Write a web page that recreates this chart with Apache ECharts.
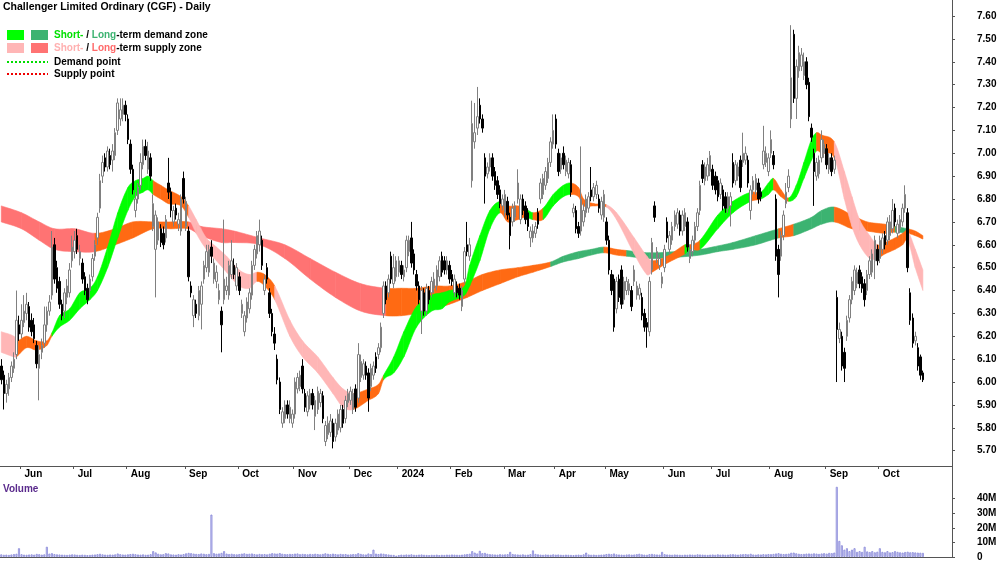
<!DOCTYPE html>
<html>
<head>
<meta charset="utf-8">
<title>Challenger Limited Ordinary (CGF) - Daily</title>
<script src="https://cdn.jsdelivr.net/npm/echarts@6/dist/echarts.min.js"></script>
<style>
html, body { margin: 0; padding: 0; background: #fff; }
#chart { width: 1000px; height: 562px; }
</style>
</head>
<body>
<div id="chart"></div>
<script>
// month labels and the bar each month starts on
var monthLabels = ['Jun','Jul','Aug','Sep','Oct','Nov','Dec','2024','Feb','Mar','Apr','May','Jun','Jul','Aug','Sep','Oct'];
var monthStart  = [8,29,50,73,94,116,138,157,178,199,219,239,262,281,304,326,347];
var padBars = 11; // empty room after the last bar

// daily prices, one value per trading day
var opens = [
 6.07,6.03,5.95,5.97,6.02,6.06,6.12,6.25,6.21,6.26, 6.30,6.33,6.27,6.25,6.16,6.06,6.13,6.17,6.25,6.31,
 6.38,6.60,6.50,6.44,6.34,6.31,6.37,6.39,6.53,6.57, 6.64,6.54,6.52,6.46,6.41,6.40,6.46,6.55,6.63,6.76,
 6.90,6.98,6.94,6.99,6.97,6.99,7.10,7.15,7.17,7.21, 7.15,7.04,6.93,6.75,6.80,6.86,6.95,7.03,6.93,6.98,
 6.68,6.58,6.62,6.67,6.65,6.63,6.87,6.83,6.70,6.76, 6.69,6.66,6.89,6.68,6.66,6.42,6.29,6.34,6.29,6.34,
 6.45,6.50,6.48,6.59,6.45,6.44,6.36,6.31,6.36,6.40, 6.38,6.47,6.51,6.42,6.46,6.30,6.22,6.28,6.32,6.38,
 6.51,6.56,6.60,6.62,6.40,6.50,6.39,6.30,6.21,6.10, 6.00,5.82,5.84,5.90,5.84,5.82,5.86,5.97,5.98,6.07,
 5.95,5.87,5.90,5.95,5.85,5.88,5.91,5.94,5.74,5.77, 5.78,5.82,5.76,5.79,5.80,5.88,5.84,5.91,5.92,5.88,
 5.97,5.93,6.02,6.03,6.07,6.04,5.98,6.03,6.11,6.12, 6.15,6.30,6.42,6.39,6.55,6.43,6.46,6.48,6.51,6.46,
 6.50,6.57,6.63,6.56,6.47,6.42,6.31,6.39,6.31,6.40, 6.39,6.41,6.42,6.46,6.55,6.53,6.49,6.51,6.47,6.39,
 6.42,6.41,6.33,6.45,6.60,6.55,6.88,7.05,7.11,7.21, 7.15,6.98,6.91,6.94,6.98,6.92,6.88,6.84,6.77,6.74,
 6.79,6.72,6.70,6.72,6.80,6.71,6.80,6.77,6.74,6.63, 6.63,6.65,6.74,6.80,6.82,6.86,6.89,6.96,7.04,7.15,
 7.00,6.93,7.00,6.92,6.91,6.95,6.74,6.75,6.68,6.66, 6.70,6.74,6.76,6.84,6.81,6.82,6.80,6.73,6.72,6.70,
 6.62,6.47,6.45,6.32,6.45,6.49,6.36,6.40,6.40,6.40, 6.44,6.38,6.38,6.37,6.30,6.26,6.22,6.49,6.77,6.54,
 6.51,6.43,6.50,6.70,6.58,6.62,6.68,6.69,6.73,6.66, 6.68,6.70,6.54,6.57,6.62,6.68,6.75,6.95,6.88,6.90,
 6.92,6.93,6.90,6.88,6.82,6.84,6.81,6.76,6.77,6.96, 6.88,6.90,6.97,6.96,6.97,6.97,6.75,6.84,6.84,6.87,
 6.83,6.95,6.96,6.92,7.00,6.99,6.80,6.58,6.55,6.64, 6.78,6.85,7.15,7.52,7.24,7.36,7.38,7.34,7.40,7.31,
 7.11,7.00,6.90,6.91,6.98,7.00,7.02,6.93,6.98,6.93, 6.37,6.19,6.20,6.13,6.20,6.28,6.36,6.40,6.43,6.49,
 6.46,6.43,6.40,6.47,6.48,6.53,6.58,6.54,6.58,6.64, 6.62,6.64,6.67,6.76,6.65,6.67,6.70,6.76,6.74,6.39,
 6.28,6.18,6.15,6.11,6.04
];
var closes = [
 6.01,5.95,5.99,6.02,6.07,6.10,6.27,6.21,6.27,6.31, 6.34,6.24,6.22,6.19,6.08,6.12,6.16,6.25,6.31,6.35,
 6.59,6.45,6.41,6.34,6.29,6.39,6.42,6.49,6.59,6.62, 6.58,6.57,6.45,6.40,6.36,6.45,6.54,6.60,6.72,6.88,
 6.96,6.94,7.01,6.95,7.01,7.09,7.22,7.19,7.21,7.17, 7.06,6.93,6.84,6.80,6.85,6.96,7.03,6.99,7.01,6.90,
 6.78,6.73,6.70,6.61,6.60,6.71,6.83,6.75,6.75,6.73, 6.71,6.80,6.80,6.79,6.46,6.39,6.36,6.30,6.40,6.42,
 6.51,6.57,6.58,6.55,6.52,6.48,6.40,6.25,6.45,6.42, 6.51,6.53,6.47,6.50,6.40,6.34,6.29,6.35,6.39,6.51,
 6.58,6.64,6.66,6.51,6.45,6.45,6.30,6.22,6.17,6.01, 5.88,5.87,5.90,5.86,5.89,5.86,6.00,6.02,6.03,5.97,
 5.89,5.94,5.95,5.90,5.92,5.96,5.95,5.84,5.81,5.82, 5.83,5.74,5.82,5.86,5.88,5.82,5.92,5.95,5.96,5.95,
 5.89,6.12,6.09,6.08,6.03,5.93,6.06,6.07,6.06,6.15, 6.24,6.42,6.36,6.45,6.45,6.50,6.53,6.53,6.47,6.49,
 6.62,6.62,6.52,6.49,6.42,6.36,6.40,6.31,6.41,6.36, 6.44,6.45,6.49,6.53,6.48,6.49,6.53,6.45,6.44,6.45,
 6.39,6.38,6.40,6.57,6.57,6.60,7.13,7.09,7.16,7.15, 7.11,6.90,6.94,6.98,6.90,6.86,6.82,6.78,6.80,6.82,
 6.73,6.64,6.76,6.77,6.87,6.80,6.75,6.71,6.68,6.66, 6.66,6.68,6.69,6.87,6.89,6.92,6.96,7.05,7.10,7.04,
 6.92,6.98,6.95,6.97,6.96,6.83,6.76,6.67,6.65,6.80, 6.75,6.80,6.81,6.81,6.85,6.86,6.76,6.79,6.82,6.62,
 6.49,6.40,6.24,6.44,6.37,6.34,6.44,6.44,6.43,6.33, 6.49,6.42,6.41,6.29,6.24,6.24,6.44,6.61,6.72,6.57,
 6.54,6.46,6.58,6.63,6.64,6.68,6.73,6.74,6.66,6.73, 6.74,6.59,6.58,6.62,6.68,6.74,6.86,6.89,6.94,6.95,
 6.99,6.86,6.84,6.81,6.87,6.77,6.76,6.81,6.81,6.87, 6.95,6.94,6.85,7.00,7.00,6.87,6.84,6.88,6.89,6.80,
 6.81,7.01,7.00,6.98,7.06,6.95,6.55,6.47,6.64,6.73, 6.83,6.90,7.33,7.24,7.38,7.44,7.43,7.40,7.30,7.16,
 7.07,6.92,6.96,6.97,7.06,7.04,6.95,6.98,6.92,6.97, 6.23,6.23,6.07,6.06,6.27,6.36,6.44,6.49,6.48,6.43,
 6.41,6.36,6.47,6.53,6.56,6.62,6.53,6.62,6.63,6.60, 6.70,6.70,6.75,6.70,6.69,6.71,6.76,6.82,6.50,6.27,
 6.17,6.20,6.07,6.03,6.01
];
var highs = [
 6.10,6.05,6.01,6.04,6.09,6.13,6.40,6.29,6.34,6.38, 6.39,6.35,6.30,6.28,6.18,6.16,6.19,6.33,6.33,6.38,
 6.66,6.63,6.53,6.46,6.36,6.41,6.45,6.52,6.64,6.66, 6.67,6.60,6.54,6.48,6.43,6.47,6.56,6.62,6.74,6.91,
 6.99,7.00,7.03,7.02,7.04,7.11,7.24,7.24,7.24,7.23, 7.17,7.06,6.95,6.83,6.87,7.00,7.06,7.06,7.05,7.00,
 6.82,6.75,6.72,6.69,6.68,6.73,6.98,6.85,6.77,6.78, 6.74,6.82,6.92,6.81,6.68,6.44,6.38,6.36,6.42,6.44,
 6.53,6.60,6.60,6.62,6.54,6.51,6.43,6.33,6.71,6.46, 6.53,6.62,6.54,6.52,6.48,6.36,6.31,6.37,6.41,6.53,
 6.60,6.66,6.71,6.64,6.47,6.52,6.41,6.32,6.24,6.12, 6.02,5.89,5.92,5.92,5.92,5.88,6.02,6.04,6.05,6.10,
 5.97,5.96,5.97,5.97,5.94,5.98,5.97,5.96,5.83,5.85, 5.86,5.84,5.84,5.88,5.90,5.90,5.94,5.97,5.98,5.97,
 5.99,6.17,6.12,6.10,6.09,6.06,6.08,6.09,6.13,6.17, 6.26,6.44,6.44,6.47,6.57,6.56,6.55,6.55,6.53,6.51,
 6.64,6.64,6.70,6.58,6.49,6.44,6.42,6.41,6.43,6.42, 6.46,6.48,6.51,6.55,6.57,6.55,6.55,6.53,6.49,6.47,
 6.44,6.43,6.42,6.59,6.70,6.63,7.23,7.22,7.29,7.24, 7.17,7.00,6.96,7.00,7.00,6.94,6.90,6.86,6.82,6.84,
 6.81,6.74,6.78,6.79,6.93,6.82,6.82,6.79,6.76,6.68, 6.69,6.70,6.76,6.89,6.91,6.94,6.98,7.07,7.17,7.17,
 7.02,7.00,7.03,6.99,6.98,6.97,6.78,6.77,6.70,7.03, 6.78,6.82,6.83,6.94,6.87,6.88,6.82,6.81,6.84,6.72,
 6.64,6.49,6.47,6.46,6.47,6.51,6.46,6.46,6.45,6.42, 6.51,6.44,6.43,6.39,6.32,6.28,6.46,6.63,6.79,6.59,
 6.56,6.48,6.60,6.72,6.66,6.70,6.75,6.76,6.75,6.75, 6.76,6.72,6.60,6.64,6.70,6.76,6.88,6.97,6.96,6.98,
 7.01,6.95,6.92,6.90,6.89,6.86,6.83,6.83,6.83,7.00, 6.97,6.96,6.99,7.09,7.03,6.99,6.86,6.90,6.91,6.89,
 6.85,7.12,7.03,7.00,7.10,7.01,6.82,6.60,6.66,6.75, 6.87,6.93,7.56,7.54,7.41,7.47,7.46,7.44,7.42,7.33,
 7.13,7.02,6.98,6.99,7.10,7.06,7.04,7.00,7.00,6.99, 6.40,6.26,6.22,6.15,6.29,6.38,6.46,6.51,6.50,6.51,
 6.48,6.45,6.49,6.55,6.58,6.64,6.60,6.64,6.65,6.66, 6.72,6.73,6.80,6.78,6.71,6.73,6.78,6.86,6.76,6.41,
 6.30,6.22,6.17,6.12,6.05
];
var lows = [
 5.99,5.88,5.91,5.94,6.00,6.04,6.10,6.18,6.19,6.24, 6.27,6.22,6.20,6.17,6.06,5.92,6.10,6.15,6.22,6.29,
 6.36,6.43,6.39,6.32,6.27,6.28,6.34,6.37,6.50,6.54, 6.56,6.51,6.43,6.38,6.34,6.37,6.44,6.53,6.60,6.74,
 6.87,6.92,6.92,6.93,6.92,6.97,7.08,7.12,7.14,7.14, 7.04,6.91,6.82,6.72,6.78,6.84,6.93,6.97,6.91,6.88,
 6.66,6.37,6.60,6.59,6.58,6.61,6.80,6.72,6.68,6.71, 6.66,6.64,6.78,6.66,6.44,6.37,6.24,6.28,6.27,6.23,
 6.43,6.48,6.46,6.52,6.43,6.41,6.34,6.13,6.34,6.38, 6.36,6.45,6.45,6.40,6.38,6.28,6.20,6.26,6.30,6.36,
 6.49,6.54,6.57,6.49,6.38,6.43,6.28,6.20,6.14,5.99, 5.86,5.80,5.82,5.84,5.82,5.80,5.84,5.95,5.96,5.95,
 5.87,5.85,5.88,5.88,5.79,5.86,5.89,5.82,5.72,5.75, 5.76,5.71,5.74,5.77,5.78,5.80,5.82,5.89,5.90,5.86,
 5.87,5.91,6.00,6.01,6.01,5.87,5.96,6.01,6.04,6.10, 6.13,6.28,6.34,6.37,6.43,6.41,6.44,6.46,6.45,6.44,
 6.48,6.55,6.50,6.47,6.40,6.34,6.21,6.29,6.29,6.34, 6.37,6.39,6.40,6.44,6.46,6.47,6.47,6.43,6.42,6.37,
 6.37,6.36,6.31,6.43,6.55,6.53,6.85,7.02,7.08,7.13, 7.09,6.78,6.89,6.92,6.88,6.84,6.80,6.76,6.75,6.72,
 6.71,6.58,6.68,6.70,6.78,6.69,6.73,6.69,6.66,6.59, 6.61,6.63,6.67,6.78,6.80,6.84,6.87,6.94,7.02,7.02,
 6.90,6.91,6.93,6.90,6.89,6.81,6.72,6.65,6.63,6.64, 6.68,6.72,6.74,6.79,6.79,6.80,6.74,6.71,6.70,6.60,
 6.47,6.38,6.22,6.30,6.35,6.32,6.34,6.38,6.38,6.31, 6.42,6.36,6.36,6.27,6.22,6.15,6.20,6.47,6.70,6.52,
 6.49,6.41,6.48,6.61,6.56,6.60,6.66,6.67,6.64,6.64, 6.66,6.57,6.52,6.55,6.60,6.66,6.73,6.87,6.86,6.88,
 6.90,6.84,6.82,6.79,6.80,6.75,6.74,6.74,6.68,6.85, 6.86,6.88,6.83,6.94,6.95,6.85,6.71,6.82,6.82,6.78,
 6.79,6.93,6.94,6.90,6.98,6.93,6.53,6.37,6.53,6.62, 6.76,6.83,7.11,7.22,7.15,7.33,7.36,7.32,7.28,7.14,
 7.05,6.77,6.88,6.89,6.96,6.98,6.93,6.91,6.90,6.91, 6.00,6.17,6.05,6.00,6.18,6.26,6.34,6.38,6.41,6.41,
 6.39,6.33,6.38,6.45,6.46,6.45,6.51,6.52,6.56,6.58, 6.60,6.62,6.65,6.68,6.63,6.65,6.68,6.74,6.48,6.25,
 6.15,6.16,6.05,6.01,6.00
];
// volume in millions
var volumes = [
 1.8,1.5,1.6,1.4,1.7,2.0,2.2,6.0,1.9,1.6, 1.5,1.7,1.8,1.6,2.1,1.9,1.6,1.8,7.0,2.3,
 2.6,2.0,1.8,1.7,1.6,1.5,1.4,1.6,1.8,1.7, 1.5,1.4,1.6,1.5,1.3,1.4,1.6,1.7,1.9,2.2,
 1.8,1.6,1.5,1.7,1.6,1.8,2.4,1.9,1.7,1.6, 1.8,2.0,2.2,1.9,1.7,1.6,1.8,1.5,1.6,1.9,
 4.0,3.1,2.2,1.8,1.9,2.6,2.4,1.8,1.7,1.6, 1.9,1.7,2.0,2.5,2.8,2.6,2.3,2.1,2.0,2.4,
 2.2,1.9,2.1,29.0,2.6,2.2,2.4,2.8,4.0,2.3, 2.0,2.2,1.9,1.8,2.0,2.3,2.5,2.1,2.2,2.4,
 2.0,1.8,2.1,1.9,2.0,1.8,2.2,2.6,2.4,2.3, 2.7,2.2,2.0,1.9,2.1,2.0,2.3,2.4,1.9,2.1,
 2.0,1.8,2.1,1.9,2.2,2.0,1.8,2.1,2.5,2.2, 1.9,2.3,2.0,1.8,2.1,1.9,2.0,1.7,1.8,2.0,
 1.9,2.6,2.1,1.8,1.7,2.4,2.0,5.0,2.3,2.0, 2.4,2.2,1.9,1.7,1.5,1.4,0.9,1.3,1.6,1.5,
 1.7,1.6,1.8,1.5,1.4,1.6,1.7,1.5,1.4,1.3, 1.5,1.4,1.6,1.3,1.5,1.4,1.6,1.5,1.7,1.6,
 1.5,1.4,1.6,1.8,2.0,2.2,4.0,3.0,2.4,4.2, 2.6,2.8,2.2,1.9,1.8,1.7,1.6,1.9,1.7,1.8,
 1.9,3.5,2.0,1.8,1.7,1.6,1.8,1.5,1.6,1.9, 4.5,2.1,1.8,1.6,1.5,1.7,1.6,1.5,1.8,1.6,
 1.7,1.5,1.4,1.6,1.5,1.4,1.3,1.5,1.6,1.4, 1.8,3.0,1.7,1.5,1.6,1.4,1.5,1.6,1.7,2.0,
 2.2,1.9,2.4,1.8,1.7,1.6,1.5,1.7,1.8,1.6, 1.7,1.9,2.2,1.8,1.6,1.5,1.9,2.1,1.8,1.7,
 1.6,3.5,1.9,1.7,1.6,1.5,1.7,1.6,1.5,1.4, 1.6,1.5,1.7,1.6,1.5,1.8,1.7,1.6,1.5,1.4,
 1.6,1.7,1.5,1.8,1.6,1.7,1.5,1.6,1.8,1.9, 1.7,1.6,1.8,1.9,2.0,1.8,2.2,1.7,1.6,1.8,
 1.7,1.9,1.8,2.0,1.9,2.1,2.4,2.6,2.2,2.0, 2.1,2.3,2.9,3.0,2.5,2.2,2.0,2.1,2.3,2.4,
 2.2,2.5,2.3,2.1,2.4,2.6,2.3,2.8,2.6,3.0, 48.0,11.0,8.0,5.0,6.0,4.0,5.0,6.0,3.5,4.0,
 3.5,7.0,3.8,3.4,4.0,3.2,3.6,6.0,3.5,3.2, 4.0,3.1,3.3,4.0,3.5,3.2,3.0,3.4,3.6,3.2,
 3.3,3.1,3.0,2.9,2.8
];

// short-term zone: bar index, upper edge, lower edge, zone colour from this point on
var stIdx = [0,5,6,10,14,18,20,23,27,31,35,38,42,46,50,53,56,58,60,63,66,71,74,77,81,85,89,94,98,101,
  104,108,114,119,125,131,135,139,145,149,151,155,159,164,170,174,177,183,185,189,193,197,200,204,207,210,214,218,222,225,
  228,230,234,239,243,250,255,257,263,270,272,276,283,289,296,300,303,305,308,311,314,317,320,322,324,329,333,336,339,343,
  346,349,353,356,358,361,364];
var stHi = [6.22,6.20,6.18,6.20,6.18,6.18,6.215,6.29,6.32,6.39,6.41,6.46,6.59,6.74,6.85,6.88,6.89,6.90,6.88,6.86,
  6.84,6.81,6.77,6.71,6.63,6.59,6.55,6.49,6.47,6.48, 6.47,6.42,6.27,6.18,6.11,6.02,5.97,5.95,5.97,5.99,
  6.03,6.11,6.22,6.33,6.38,6.39,6.40,6.42,6.51,6.64, 6.75,6.79,6.77,6.77,6.76,6.74,6.76,6.82,6.86,6.87,
  6.85,6.80,6.78,6.775,6.74,6.63,6.55,6.53,6.55,6.60, 6.60,6.62,6.73,6.79,6.83,6.83,6.87,6.89,6.84,6.805,
  6.86,6.96,7.06,7.09,7.08,7.05,6.92,6.81,6.71,6.64, 6.60,6.61,6.63,6.65,6.66,6.58,6.49];
var stLo = [6.13,6.11,6.11,6.15,6.14,6.16,6.20,6.24,6.27,6.32,6.36,6.40,6.50,6.63,6.75,6.81,6.83,6.84,6.82,6.80,
  6.78,6.77,6.72,6.65,6.58,6.53,6.48,6.42,6.41,6.44, 6.42,6.36,6.20,6.11,6.04,5.95,5.89,5.88,5.92,5.95,
  6.01,6.04,6.11,6.24,6.31,6.32,6.35,6.38,6.42,6.53, 6.67,6.74,6.70,6.71,6.72,6.71,6.71,6.77,6.81,6.82,
  6.81,6.77,6.77,6.765,6.71,6.56,6.47,6.48,6.52,6.56, 6.58,6.58,6.67,6.74,6.79,6.80,6.82,6.84,6.81,6.79,
  6.81,6.89,6.97,7.01,7.00,6.98,6.80,6.68,6.60,6.54, 6.54,6.56,6.58,6.60,6.62,6.50,6.40];
var stCol = ['p','p','o','o','o','o','g','g','g','g','g','g','g','g','g','g','g','g','o','o',
  'o','o','p','p','p','p','p','p','p','o', 'o','p','p','p','p','p','p','o','o','o',
  'g','g','g','g','g','g','g','g','g','g', 'g','o','o','o','g','o','g','g','g','o',
  'o','o','o','p','p','p','p','o','o','g', 'o','g','g','g','o','g','g','o','o','g',
  'g','g','g','o','o','p','p','p','p','p', 'o','o','o','o','p','p','p'];

// long-term zone
var ltIdx = [0,8,15,21,29,37,45,52,60,67,74,79,87,92,102,112,122,132,142,152,158,164,171,177,184,190,197,204,210,217,
  222,228,233,238,243,247,256,266,276,283,289,298,307,313,320,324,329,336,342,349,353,358,361,364];
var ltHi = [6.77,6.74,6.70,6.67,6.67,6.65,6.67,6.70,6.70,6.70,6.70,6.68,6.67,6.66,6.63,6.60,6.54,6.48,6.43,6.41,
  6.41,6.41,6.42,6.42,6.44,6.47,6.49,6.50,6.51,6.525, 6.55,6.57,6.58,6.59,6.58,6.575,6.565,6.57,6.58,6.595,
  6.61,6.64,6.67,6.69,6.72,6.75,6.765,6.73,6.70,6.69, 6.68,6.67,6.66,6.64];
var ltLo = [6.70,6.67,6.62,6.58,6.57,6.57,6.60,6.63,6.67,6.67,6.67,6.64,6.61,6.61,6.60,6.54,6.45,6.37,6.31,6.29,
  6.29,6.30,6.32,6.34,6.37,6.40,6.43,6.46,6.48,6.505, 6.525,6.54,6.555,6.565,6.555,6.55,6.54,6.545,6.555,6.57,
  6.58,6.60,6.63,6.64,6.67,6.69,6.70,6.67,6.66,6.65, 6.655,6.65,6.64,6.625];
var ltCol = ['r','r','r','r','r','o','o','o','o','o','r','r','r','r','r','r','r','r','r','o',
  'o','o','o','o','o','o','o','o','o','dg', 'dg','dg','dg','o','o','dg','dg','dg','dg','dg',
  'dg','dg','o','dg','dg','dg','o','o','o','o', 'dg','o','o','o'];

var priceTicks = [5.7,5.8,5.9,6.0,6.1,6.2,6.3,6.4,6.5,6.6,6.7,6.8,6.9,7.0,7.1,7.2,7.3,7.4,7.5,7.6];
var volTicks = [0,10,20,30,40];

var zoneColors = { g: '#00ff00', dg: '#3cb371', p: '#ffb6b6', r: '#ff7373', o: '#ff6a13' };
var FONT = '"Liberation Sans", Arial, sans-serif';

// categories: one per bar plus the empty room on the right
var cats = [];
for (var i = 0; i < opens.length + padBars; i++) cats.push(String(i));
var monthAt = {};
monthStart.forEach(function (b, k) { monthAt[b] = monthLabels[k]; });

var candles = [];
for (var i = 0; i < opens.length; i++) candles.push([opens[i], closes[i], lows[i], highs[i]]);

// a zone band: every piece between two readings is drawn as a filled shape,
// its edges bent smoothly (cubic Hermite in screen space) like a smoothed line
function bandSeries(idx, hi, lo, col, z) {
  var segs = [];
  for (var k = 0; k < idx.length - 1; k++) {
    segs.push([idx[k], hi[k], lo[k], idx[k + 1], hi[k + 1], lo[k + 1], k]);
  }
  return {
    type: 'custom',
    xAxisIndex: 0,
    yAxisIndex: 0,
    z: z,
    silent: true,
    encode: { x: [0, 3], y: [1, 2, 4, 5] },
    data: segs,
    renderItem: function (params, api) {
      var k = api.value(6);
      var n = idx.length;
      function px(j, arr) { return api.coord([idx[j], arr[j]]); }
      function slope(j, arr) {
        var a = px(Math.max(j - 1, 0), arr);
        var b = px(Math.min(j + 1, n - 1), arr);
        return (b[1] - a[1]) / (b[0] - a[0]);
      }
      function edge(arr) {
        var p1 = px(k, arr), p2 = px(k + 1, arr);
        var m1 = slope(k, arr), m2 = slope(k + 1, arr);
        var dx = p2[0] - p1[0];
        var pts = [];
        for (var s = 0; s <= 8; s++) {
          var t = s / 8, t2 = t * t, t3 = t2 * t;
          var y = (2 * t3 - 3 * t2 + 1) * p1[1] + (t3 - 2 * t2 + t) * dx * m1 +
                  (-2 * t3 + 3 * t2) * p2[1] + (t3 - t2) * dx * m2;
          pts.push([p1[0] + t * dx, y]);
        }
        return pts;
      }
      var pts = edge(hi).concat(edge(lo).reverse());
      var color = zoneColors[col[k]];
      return {
        type: 'polygon',
        shape: { points: pts },
        style: { fill: color, stroke: color, lineWidth: 0.6 }
      };
    }
  };
}

var chart = echarts.init(document.getElementById('chart'), null, { renderer: 'canvas' });

var option = {
  animation: false,
  backgroundColor: '#ffffff',
  textStyle: { fontFamily: FONT },
  grid: [
    { left: 0, right: 48, top: 0, bottom: 96 },
    { left: 0, right: 48, top: 481, bottom: 2 }
  ],
  xAxis: [
    {
      type: 'category', gridIndex: 0, data: cats, boundaryGap: true,
      axisLine: { show: true, lineStyle: { color: '#555', width: 1 } },
      axisTick: {
        show: true, length: 3, lineStyle: { color: '#555' },
        interval: function (i) { return monthAt[i] !== undefined; }
      },
      axisLabel: {
        interval: function (i) { return monthAt[i] !== undefined; },
        formatter: function (v, i) { return monthAt[i] || ''; },
        align: 'left', margin: 3, padding: [0, 0, 0, 3],
        color: '#000', fontSize: 10, fontWeight: 'bold', fontFamily: FONT
      },
      splitLine: { show: false }
    },
    {
      type: 'category', gridIndex: 1, data: cats, boundaryGap: true, position: 'top',
      axisLine: { show: true, lineStyle: { color: '#555', width: 1 } },
      axisTick: { show: false },
      axisLabel: { show: false },
      splitLine: { show: false }
    }
  ],
  yAxis: [
    {
      type: 'value', gridIndex: 0, position: 'right', min: 5.633, max: 7.670, scale: true,
      axisLine: { show: true, lineStyle: { color: '#555' } },
      axisTick: { show: true, length: 3, customValues: priceTicks, lineStyle: { color: '#555' } },
      axisLabel: {
        customValues: priceTicks,
        formatter: function (v) { return v.toFixed(2); },
        margin: 25, color: '#000', fontSize: 10, fontWeight: 'bold', fontFamily: FONT
      },
      splitLine: { show: false }
    },
    {
      type: 'value', gridIndex: 1, position: 'right', min: 0, max: 52,
      axisLine: { show: true, lineStyle: { color: '#555' } },
      axisTick: { show: true, length: 3, customValues: volTicks, lineStyle: { color: '#555' } },
      axisLabel: {
        customValues: volTicks,
        formatter: function (v) { return v === 0 ? '0' : v + 'M'; },
        margin: 25, color: '#000', fontSize: 10, fontWeight: 'bold', fontFamily: FONT
      },
      splitLine: { show: false }
    }
  ],
  series: [
    bandSeries(ltIdx, ltHi, ltLo, ltCol, 1),
    bandSeries(stIdx, stHi, stLo, stCol, 2),
    {
      type: 'candlestick',
      xAxisIndex: 0, yAxisIndex: 0,
      z: 5,
      barWidth: 2,
      data: candles,
      itemStyle: {
        color: '#ffffff', color0: '#000000',
        borderColor: '#808080', borderColor0: '#000000',
        borderWidth: 1
      }
    },
    {
      type: 'bar',
      xAxisIndex: 1, yAxisIndex: 1,
      barWidth: 2,
      data: volumes,
      itemStyle: { color: '#d4d4f5', borderColor: '#8686d8', borderWidth: 0.8 }
    }
  ],
  graphic: [
    { type: 'text', x: 3, y: 7, style: { text: 'Challenger Limited Ordinary (CGF) - Daily', fill: '#000', font: 'bold 10.5px ' + FONT, verticalAlign: 'middle' } },
    { type: 'rect', shape: { x: 7, y: 30, width: 17, height: 10 }, style: { fill: zoneColors.g } },
    { type: 'rect', shape: { x: 31, y: 30, width: 17, height: 10 }, style: { fill: zoneColors.dg } },
    { type: 'rect', shape: { x: 7, y: 43, width: 17, height: 10 }, style: { fill: zoneColors.p } },
    { type: 'rect', shape: { x: 31, y: 43, width: 17, height: 10 }, style: { fill: zoneColors.r } },
    { type: 'line', shape: { x1: 7, y1: 62, x2: 48, y2: 62 }, style: { stroke: '#00dd00', lineWidth: 2, lineDash: [2, 2] } },
    { type: 'line', shape: { x1: 7, y1: 74, x2: 48, y2: 74 }, style: { stroke: '#ee0000', lineWidth: 2, lineDash: [2, 2] } },
    {
      type: 'text', x: 54, y: 35,
      style: {
        text: '{a|Short-} / {b|Long}-term demand zone', fill: '#000', font: 'bold 10px ' + FONT, verticalAlign: 'middle',
        rich: { a: { fill: '#00e000', font: 'bold 10px ' + FONT }, b: { fill: '#3cb371', font: 'bold 10px ' + FONT } }
      }
    },
    {
      type: 'text', x: 54, y: 48,
      style: {
        text: '{a|Short-} / {b|Long}-term supply zone', fill: '#000', font: 'bold 10px ' + FONT, verticalAlign: 'middle',
        rich: { a: { fill: '#ffb0b0', font: 'bold 10px ' + FONT }, b: { fill: '#ff6a6a', font: 'bold 10px ' + FONT } }
      }
    },
    { type: 'text', x: 54, y: 62, style: { text: 'Demand point', fill: '#000', font: 'bold 10px ' + FONT, verticalAlign: 'middle' } },
    { type: 'text', x: 54, y: 74, style: { text: 'Supply point', fill: '#000', font: 'bold 10px ' + FONT, verticalAlign: 'middle' } },
    { type: 'text', x: 3, y: 489, style: { text: 'Volume', fill: '#5a2a8c', font: 'bold 10px ' + FONT, verticalAlign: 'middle' } },
    { type: 'line', shape: { x1: 952.5, y1: 466, x2: 952.5, y2: 481 }, style: { stroke: '#555', lineWidth: 1 } }
  ]
};

chart.setOption(option);
</script>
</body>
</html>
